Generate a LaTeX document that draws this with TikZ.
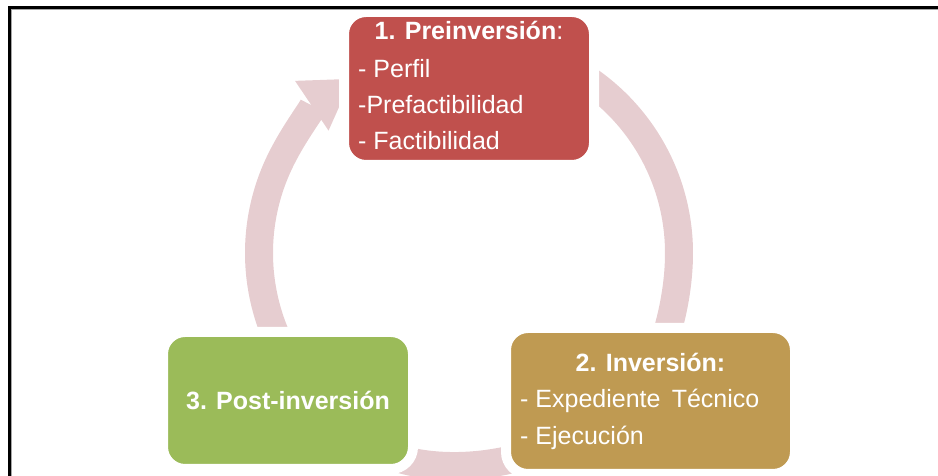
\documentclass[tikz,border=0pt]{standalone}
\usepackage{fontspec}
\setmainfont{Liberation Sans}
\usetikzlibrary{arrows.meta,calc}
\definecolor{preRed}{HTML}{C0504D}
\definecolor{invGold}{HTML}{BF9A52}
\definecolor{postGreen}{HTML}{9BBB59}
\definecolor{ringPink}{HTML}{E6CDD0}
\begin{document}
\begin{tikzpicture}[x=1pt, y=1pt,
  every node/.style={font=\fontsize{25}{36}\selectfont, text=white, inner sep=0pt},
  box/.style={rectangle, rounded corners=22pt, draw=white, line width=10pt, outer sep=0pt},
  head/.style={font=\fontsize{25}{36}\selectfont\bfseries, anchor=base},
  item/.style={anchor=base west},
  ring/.style={draw=ringPink, line width=28pt,
               -{Triangle[width=60pt, length=48pt, line width=0pt]}}
]
\useasboundingbox (0,0) rectangle (938,476);
% cycle arrows round the centre
\coordinate (c) at (469,223);
\draw[ring] ([shift={(215:210)}]c) arc[start angle=215, end angle=124, radius=210];
\draw[ring] ([shift={(62:210)}]c) arc[start angle=62, end angle=-42, radius=210];
\draw[ring] ([shift={(-60:210)}]c) arc[start angle=-60, end angle=-130, radius=210];
% stage boxes
\node[box, fill=preRed, minimum width=250pt, minimum height=153pt] (pre) at (469,387.5) {};
\node[box, fill=invGold, minimum width=289pt, minimum height=146pt] (inv) at (650.5,75) {};
\node[box, fill=postGreen, minimum width=250pt, minimum height=137pt] (post) at (288,75.5) {};
% 1. Preinversion
\node[head] (preT) at ([yshift=-28pt]pre.north) {1. Preinversión\mdseries:};
\node[item] (preA) at ([xshift=14pt, yshift=-66pt]pre.north west) {- Perfil};
\node[item] (preB) at ([xshift=14pt, yshift=-102pt]pre.north west) {-Prefactibilidad};
\node[item] (preC) at ([xshift=14pt, yshift=-138pt]pre.north west) {- Factibilidad};
% 2. Inversion
\node[head] (invT) at ([yshift=-44pt]inv.north) {2. Inversión:};
\node[item] (invA) at ([xshift=14pt, yshift=-80pt]inv.north west) {- Expediente\hspace{0.45em}Técnico};
\node[item] (invB) at ([xshift=14pt, yshift=-117pt]inv.north west) {- Ejecución};
% 3. Post-inversion
\node[head] (postT) at ([yshift=-9.5pt]post.center) {3. Post-inversión};
% frame
\draw[black!35, line width=1pt] (11.5,0) -- (11.5,466.5) -- (938,466.5);
\draw[black, line width=3pt] (9.5,0) -- (9.5,468.5) -- (938,468.5);
\end{tikzpicture}
\end{document}
